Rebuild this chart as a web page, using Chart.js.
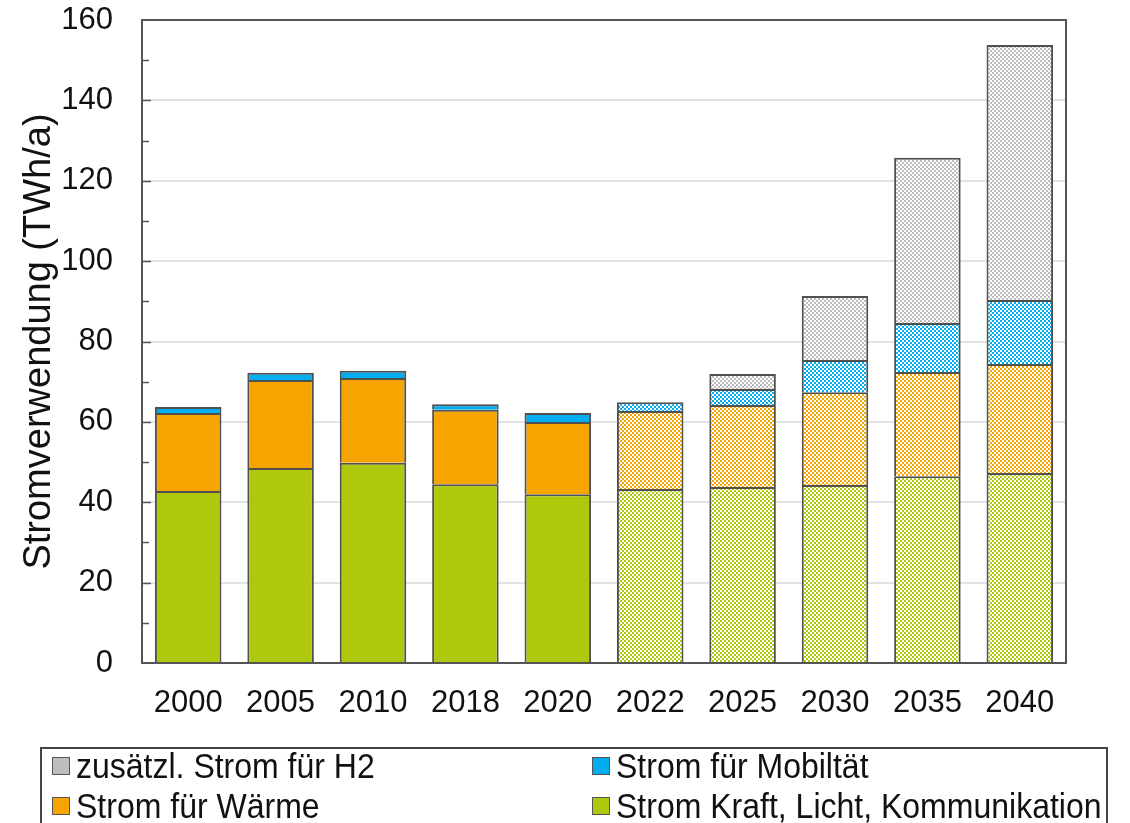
<!DOCTYPE html>
<html>
<head>
<meta charset="utf-8">
<script src="https://cdn.jsdelivr.net/npm/chart.js@4"></script>
<style>
  html, body { margin: 0; padding: 0; background: #fff; overflow: hidden; }
  #wrap { position: relative; width: 1130px; height: 823px; }
  #legend {
    position: absolute; left: 40px; top: 747px; width: 1068px; height: 100px;
    border: 2px solid #444; box-sizing: border-box;
    font-family: "Liberation Sans", Arial, sans-serif; font-size: 32px; line-height: 1; color: #111;
  }
  .item { position: absolute; display: flex; align-items: center; white-space: nowrap; }
  .item span.txt { display: inline-block; transform: scaleY(1.1); }
  .box { width: 16px; height: 16px; border: 1.5px solid #555; margin-right: 6px; }
</style>
</head>
<body>
<div id="wrap">
  <canvas id="myChart" width="1130" height="823"></canvas>
  <div id="legend"></div>
</div>
<script>
// Kategorien (Jahre)
const years = ["2000", "2005", "2010", "2018", "2020", "2022", "2025", "2030", "2035", "2040"];
// ab diesem Index schraffiert (Prognose)
const firstForecast = 5;

// Werte in TWh/a
const kraftLicht = [42.8, 48.5, 49.8, 44.5, 42.0, 43.3, 43.8, 44.3, 46.5, 47.3];
const waerme = [19.4, 21.9, 21.1, 18.5, 18.0, 19.4, 20.4, 23.1, 25.9, 27.1];
const mobilitaet = [1.5, 1.8, 1.8, 1.4, 2.2, 2.2, 4.0, 8.0, 12.2, 15.9];
const wasserstoff = [null, null, null, null, null, null, 3.7, 15.9, 41.1, 63.5];

const seriesNames = [
  "Strom Kraft, Licht, Kommunikation",
  "Strom für Wärme",
  "Strom für Mobiltät",
  "zusätzl. Strom für H2",
];
const seriesColors = ["#afc80c", "#f5a400", "#00aeef", "#bdbdbd"];
const yTicks = [0, 20, 40, 60, 80, 100, 120, 140, 160];

// Karomuster für die Prognosejahre
function checker(color) {
  const c = document.createElement("canvas");
  c.width = 4;
  c.height = 4;
  const g = c.getContext("2d");
  g.fillStyle = "#ffffff";
  g.fillRect(0, 0, 4, 4);
  g.fillStyle = color;
  g.fillRect(0, 0, 2, 2);
  g.fillRect(2, 2, 2, 2);
  return g.createPattern(c, "repeat");
}

const patterns = seriesColors.map((c) => checker(c));
const seriesData = [kraftLicht, waerme, mobilitaet, wasserstoff];

const datasets = seriesData.map((values, i) => ({
  label: seriesNames[i],
  data: values,
  backgroundColor: (ctx) => (ctx.dataIndex >= firstForecast ? patterns[i] : seriesColors[i]),
  borderColor: "#505050",
  borderWidth: 2,
  categoryPercentage: 1,
  barPercentage: 0.72,
}));

// Rahmen und nach innen zeigende Ticks
const framePlugin = {
  id: "frame",
  afterDatasetsDraw(chart) {
    const { ctx, chartArea: a, scales } = chart;
    const y = scales.y;
    ctx.save();
    ctx.strokeStyle = "#555";
    ctx.lineWidth = 2;
    ctx.strokeRect(a.left, a.top, a.right - a.left, a.bottom - a.top);
    ctx.lineWidth = 1.5;
    for (let v = 10; v < 160; v += 10) {
      const py = Math.round(y.getPixelForValue(v)) + 0.5;
      const len = v % 20 === 0 ? 9 : 7;
      ctx.beginPath();
      ctx.moveTo(a.left, py);
      ctx.lineTo(a.left + len, py);
      ctx.stroke();
    }
    ctx.restore();
  },
};

const ctx = document.getElementById("myChart").getContext("2d");
const chart = new Chart(ctx, {
  type: "bar",
  data: { labels: years, datasets: datasets },
  plugins: [framePlugin],
  options: {
    responsive: false,
    animation: false,
    layout: { padding: { top: 20, right: 64, bottom: 80, left: 0 } },
    plugins: { legend: { display: false }, tooltip: { enabled: false } },
    scales: {
      x: {
        stacked: true,
        grid: { display: false, drawTicks: false },
        border: { display: false },
        ticks: {
          padding: 22,
          color: "#111",
          font: { family: "'Liberation Sans', Arial, sans-serif", size: 31 },
        },
        afterFit: (s) => { s.height = 80; },
      },
      y: {
        stacked: true,
        min: 0,
        max: 160,
        afterBuildTicks: (s) => { s.ticks = yTicks.map((v) => ({ value: v })); },
        grid: {
          color: (c) => (c.tick.value === 0 || c.tick.value === 160 ? "rgba(0,0,0,0)" : "#e3e3e3"),
          lineWidth: 2,
          drawTicks: false,
        },
        border: { display: false },
        ticks: {
          padding: 29,
          color: "#111",
          font: { family: "'Liberation Sans', Arial, sans-serif", size: 31 },
        },
        title: {
          display: true,
          text: "Stromverwendung (TWh/a)",
          color: "#111",
          font: { family: "'Liberation Sans', Arial, sans-serif", size: 38 },
          padding: { top: 17, bottom: 0 },
        },
        afterFit: (s) => {
          s.width = 142;
          s.paddingTop = 0;
          s.paddingBottom = 0;
        },
      },
    },
  },
});

// Legende (zwei Spalten, wie im Original)
const legendOrder = [3, 2, 1, 0];
const legendPos = [
  [10, 1], [550, 1], [10, 41], [550, 41],
];
const legendEl = document.getElementById("legend");
legendOrder.forEach((si, k) => {
  const item = document.createElement("div");
  item.className = "item";
  item.style.left = legendPos[k][0] + "px";
  item.style.top = legendPos[k][1] + "px";
  const box = document.createElement("span");
  box.className = "box";
  box.style.background = seriesColors[si];
  const txt = document.createElement("span");
  txt.className = "txt";
  txt.textContent = seriesNames[si];
  item.appendChild(box);
  item.appendChild(txt);
  legendEl.appendChild(item);
});
</script>
</body>
</html>
